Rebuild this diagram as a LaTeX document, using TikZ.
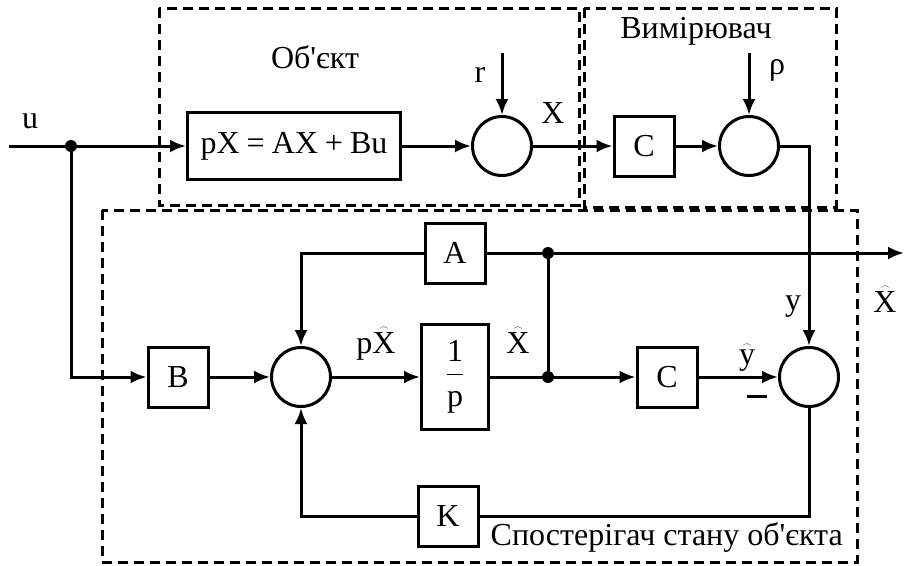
\documentclass[tikz,border=0pt]{standalone}
\usepackage{amsmath}
\usepackage{fontspec}
\setmainfont{Liberation Serif}[Ligatures=TeXOff]
\usetikzlibrary{arrows.meta, positioning}
\newcommand{\arcsym}[1]{\leavevmode\vbox{\offinterlineskip\halign{\hfil##\hfil\cr{\fontsize{9}{9}\selectfont$\frown$}\cr\noalign{\kern1.5pt}#1\cr}}}
\tikzset{
  blknode/.style={rectangle,draw=black,line width=3pt,minimum width=60pt,minimum height=60pt,inner sep=2pt},
  sumnode/.style={circle,draw=black,line width=3pt,minimum size=59pt,inner sep=0pt},
  dotnode/.style={circle,fill=black,minimum size=12pt,inner sep=0pt},
  sigedge/.style={-{Latex[length=16pt,width=13pt]},line width=3pt},
  plainedge/.style={line width=3pt},
  grpbox/.style={draw=black,line width=3pt,dash pattern=on 10pt off 6pt},
  lbl/.style={inner sep=0pt,anchor=base},
}
\begin{document}
\begin{tikzpicture}[x=1pt,y=-1pt,font=\fontsize{32}{36}\selectfont]
  \useasboundingbox (0,0) rectangle (905,565);
  % group frames
  \draw[grpbox] (159,8) rectangle (579,205);
  \draw[grpbox] (584,8) rectangle (836,207);
  \draw[grpbox] (102,210) rectangle (857,562);
  \node[lbl] (lObj) at (315,68) {Об'єкт};
  \node[lbl] (lMeas) at (696,38) {Вимірювач};
  \node[lbl,anchor=base east] (lObs) at (843,545) {Спостерігач стану об'єкта};
  % object and measurement
  \coordinate (nIn) at (9,146);
  \node[dotnode] (nU) at (71,146) {};
  \node[blknode,minimum width=213pt,minimum height=67pt] (nPX) at (294,146)
    {pX\hspace{7pt}=\hspace{7pt}AX\hspace{7pt}+\hspace{7pt}Bu};
  \node[sumnode] (nS1) at (502,146) {};
  \coordinate (nR) at (502,53);
  \node[blknode] (nC1) at (644,146) {C};
  \node[sumnode] (nS2) at (749,146) {};
  \coordinate (nRho) at (749,53);
  % observer
  \node[blknode] (nB) at (178,377) {B};
  \node[sumnode] (nS3) at (301,377) {};
  \node[blknode,minimum width=67pt,minimum height=105pt] (nP) at (455,377)
    {\ensuremath{\dfrac{\text{1}\rule[-9pt]{0pt}{9pt}}{\rule{0pt}{29pt}\text{p}}}};
  \node[blknode] (nA) at (455,253) {A};
  \node[dotnode] (nD1) at (548,377) {};
  \node[dotnode] (nD2) at (548,253) {};
  \node[blknode] (nC2) at (667,377) {C};
  \node[sumnode] (nS4) at (809,377) {};
  \node[blknode] (nK) at (448,516) {K};
  \coordinate (nOut) at (904,253);
  % signal labels
  \node[lbl] (lU) at (30,128) {u};
  \node[lbl] (lR) at (480,82) {r};
  \node[lbl] (lX) at (553,123) {X};
  \node[lbl] (lRho) at (777,74) {ρ};
  \node[lbl] (lY) at (793,310) {y};
  \node[lbl] (lOut) at (885,312) {\arcsym{X}};
  \node[lbl] (lPX) at (376,353) {p\arcsym{X}};
  \node[lbl] (lXh) at (518,353) {\arcsym{X}};
  \node[lbl] (lYh) at (747,364) {\arcsym{y}};
  \node[inner sep=0pt] (lMinus) at (757,396) {\rule{20pt}{3pt}};
  % connections
  \draw[sigedge] (nIn) -- (nPX);
  \draw[sigedge] (nU) |- (nB);
  \draw[sigedge] (nPX) -- (nS1);
  \draw[sigedge] (nR) -- (nS1);
  \draw[sigedge] (nS1) -- (nC1);
  \draw[sigedge] (nC1) -- (nS2);
  \draw[sigedge] (nRho) -- (nS2);
  \draw[sigedge] (nS2) -| (nS4);
  \draw[sigedge] (nB) -- (nS3);
  \draw[sigedge] (nS3) -- (nP);
  \draw[plainedge] (nP) -- (nD1);
  \draw[sigedge] (nD1) -- (nC2);
  \draw[sigedge] (nC2) -- (nS4);
  \draw[plainedge] (nD1) -- (nD2);
  \draw[plainedge] (nD2) -- (nA);
  \draw[sigedge] (nA) -| (nS3);
  \draw[sigedge] (nD2) -- (nOut);
  \draw[plainedge] (nS4) |- (nK);
  \draw[sigedge] (nK) -| (nS3);
\end{tikzpicture}
\end{document}
